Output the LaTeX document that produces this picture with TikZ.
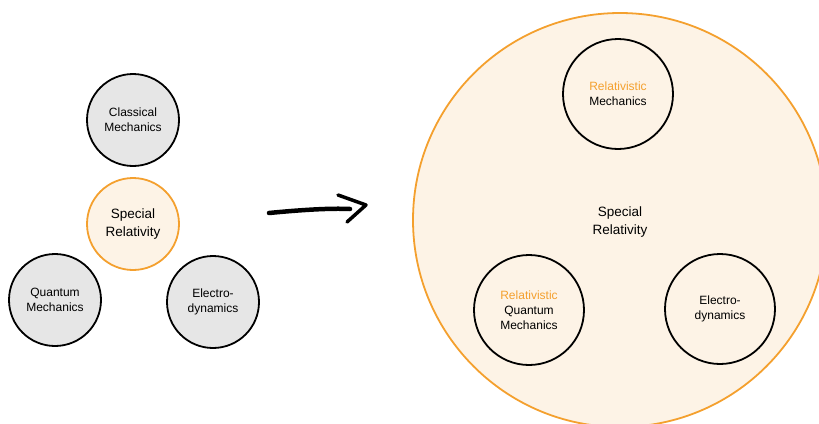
\documentclass[tikz,border=0pt]{standalone}
\usepackage{fontspec}
\setmainfont{Liberation Sans}
\begin{document}
\begin{tikzpicture}[x=1pt,y=-1pt,
  every node/.style={font=\fontsize{12}{15}\selectfont, align=center},
  bigtext/.style={font=\fontsize{13.5}{18}\selectfont},
  graycirc/.style={circle, draw=black, line width=1.8pt, fill=grayfill, minimum size=92pt, inner sep=0pt},
  srcirc/.style={circle, draw=orangeline, line width=1.8pt, fill=creamfill, minimum size=92pt, inner sep=0pt},
  innercirc/.style={circle, draw=black, line width=1.8pt, minimum size=110pt, inner sep=0pt},
  bigcirc/.style={circle, draw=orangeline, line width=1.8pt, fill=creamfill, minimum size=414pt, inner sep=0pt}]
\definecolor{orangeline}{HTML}{F4A02E}
\definecolor{creamfill}{HTML}{FDF3E6}
\definecolor{grayfill}{HTML}{E6E6E6}
\useasboundingbox (0,0) rectangle (819,423);
\begin{scope}
\clip (0,0) rectangle (819,423);
% left
\node[graycirc] (cm) at (133,120) {Classical\\Mechanics};
\node[srcirc, bigtext] (sr) at (133,224) {Special\\Relativity};
\node[graycirc] (qm) at (55,300) {Quantum\\Mechanics};
\node[graycirc] (ed) at (213,302) {Electro-\\dynamics};
% arrow
\coordinate (a1) at (269,213);
\coordinate (a2) at (366,205);
\coordinate (h1) at (338,195);
\coordinate (h2) at (347,222);
\draw[line width=4.5pt, line cap=round] (a1) .. controls (300,210) and (330,208) .. (350,209);
\draw[line width=3.5pt, line cap=round, line join=round] (h1) -- (a2) -- (h2);
% right
\node[bigcirc] (big) at (620,220) {};
\node[bigtext] (srtext) at (620,222) {Special\\Relativity};
\node[innercirc] (rm) at (618,94) {{\color{orangeline}Relativistic}\\Mechanics};
\node[innercirc] (rqm) at (529,310) {{\color{orangeline}Relativistic}\\Quantum\\Mechanics};
\node[innercirc] (red) at (720,309) {Electro-\\dynamics};
\end{scope}
\end{tikzpicture}
\end{document}
